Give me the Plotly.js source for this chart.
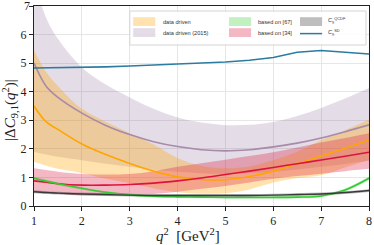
<!DOCTYPE html>
<html>
<head>
<meta charset="utf-8">
<script src="https://cdn.plot.ly/plotly-3.0.1.min.js"></script>
<style>html,body{margin:0;padding:0;background:#fff;}#chart{width:374px;height:245px;}</style>
</head>
<body>
<div id="chart"></div>
<script>
var q2 = [1, 1.25, 1.5, 2, 2.5, 3, 3.5, 4, 4.5, 5, 5.5, 6, 6.5, 7, 7.5, 8];

// data driven
var ddCenter = [3.5, 2.95, 2.68, 2.17, 1.8, 1.49, 1.22, 1.02, 0.93, 0.92, 1.03, 1.22, 1.48, 1.75, 2.02, 2.31];
var ddUpper  = [5.45, 4.7, 4.2, 3.4, 2.95, 2.55, 2.15, 1.68, 1.4, 1.32, 1.38, 1.6, 1.9, 2.3, 2.65, 3.03];
var ddLower  = [1.55, 1.42, 1.3, 1.15, 0.95, 0.8, 0.62, 0.48, 0.43, 0.45, 0.58, 0.82, 0.98, 1.08, 1.35, 1.61];

// data driven (2015)
var dd15Center = [5.0, 4.2, 3.8, 3.25, 2.82, 2.5, 2.25, 2.08, 1.97, 1.93, 1.97, 2.07, 2.2, 2.38, 2.6, 2.84];
var dd15Upper  = [7.9, 6.6, 5.85, 4.85, 4.25, 3.8, 3.4, 3.1, 2.92, 2.83, 2.84, 2.94, 3.15, 3.43, 3.76, 4.13];
var dd15Lower  = [1.9, 1.8, 1.72, 1.6, 1.48, 1.37, 1.27, 1.2, 1.15, 1.13, 1.15, 1.2, 1.28, 1.37, 1.47, 1.58];

// based on [67]
var b67Center = [0.97, 0.87, 0.78, 0.62, 0.48, 0.39, 0.34, 0.32, 0.31, 0.3, 0.3, 0.3, 0.31, 0.35, 0.56, 0.97];
var b67Err    = [0.05, 0.05, 0.05, 0.04, 0.04, 0.04, 0.04, 0.04, 0.04, 0.04, 0.04, 0.04, 0.04, 0.04, 0.05, 0.06];

// based on [34]
var b34Center = [0.88, 0.83, 0.78, 0.73, 0.73, 0.75, 0.8, 0.88, 0.98, 1.1, 1.22, 1.35, 1.48, 1.61, 1.74, 1.88];
var b34Upper  = [1.32, 1.26, 1.2, 1.12, 1.1, 1.12, 1.22, 1.37, 1.5, 1.62, 1.75, 1.88, 2.05, 2.22, 2.38, 2.55];
var b34Lower  = [0.5, 0.46, 0.42, 0.38, 0.37, 0.38, 0.42, 0.5, 0.6, 0.7, 0.82, 0.95, 1.05, 1.13, 1.22, 1.3];

// C9 QCDF
var qcdfCenter = [0.5, 0.47, 0.45, 0.42, 0.4, 0.38, 0.37, 0.37, 0.37, 0.37, 0.37, 0.38, 0.4, 0.42, 0.47, 0.54];
var qcdfErr    = [0.05, 0.05, 0.05, 0.05, 0.05, 0.05, 0.05, 0.05, 0.05, 0.05, 0.05, 0.05, 0.05, 0.05, 0.05, 0.05];

// C9 SD
var sdLine = [4.83, 4.835, 4.84, 4.85, 4.87, 4.9, 4.93, 4.96, 5.0, 5.04, 5.1, 5.2, 5.38, 5.44, 5.38, 5.32];

var xTicks = [1, 2, 3, 4, 5, 6, 7, 8];
var yTicks = [0, 1, 2, 3, 4, 5, 6, 7];
var yTopLabel = 7;

var legendLabels = ['data driven', 'data driven (2015)', 'based on [67]', 'based on [34]',
                    '<i>C</i><sub>9</sub><sup>QCDF</sup>', '<i>C</i><sub>9</sub><sup>SD</sup>'];
var xTitle = '<i>q</i><sup>2</sup>  [GeV<sup>2</sup>]';
var yTitle = '|Δ<i>C</i><sub>9,1</sub>(<i>q</i><sup>2</sup>)|';

var colors = {
  dd: 'rgba(255,165,0,0.32)', dd15: 'rgba(120,80,130,0.2)', b67: 'rgba(50,205,50,0.3)',
  b34: 'rgba(220,20,60,0.3)', qcdf: 'rgba(70,70,70,0.35)'
};

function add(a, b, s) { return a.map(function (v, i) { return v + s * b[i]; }); }
function band(lower, upper, fill) {
  return [
    {x: q2, y: lower, mode: 'lines', line: {width: 0, shape: 'spline'}, showlegend: false, hoverinfo: 'skip'},
    {x: q2, y: upper, mode: 'lines', line: {width: 0, shape: 'spline'}, fill: 'tonexty', fillcolor: fill,
     showlegend: false, hoverinfo: 'skip'}
  ];
}
function line(y, color, w, shape) {
  return {x: q2, y: y, mode: 'lines', line: {color: color, width: w, shape: shape || 'spline'}, showlegend: false};
}

var traces = [].concat(
  band(dd15Lower, dd15Upper, colors.dd15),
  band(ddLower, ddUpper, colors.dd),
  band(add(b67Center, b67Err, -1), add(b67Center, b67Err, 1), colors.b67),
  band(b34Lower, b34Upper, colors.b34),
  band(add(qcdfCenter, qcdfErr, -1), add(qcdfCenter, qcdfErr, 1), colors.qcdf),
  [
    line(dd15Center, '#a88aa9', 1.6),
    line(ddCenter, '#ffa500', 1.6),
    line(b34Center, '#dc143c', 1.6),
    line(b67Center, '#32cd32', 1.6),
    line(qcdfCenter, '#3a3a3a', 1.4),
    line(sdLine, '#2b7ca0', 1.6, 'linear')
  ]
);

// manual legend (paper coordinates)
var legFont = {family: 'Liberation Sans, Arial, sans-serif', size: 5.6, color: '#333'};
var shapes = [
  {type: 'rect', xref: 'paper', yref: 'paper', x0: 0.286, x1: 0.991, y0: 0.805, y1: 0.975,
   fillcolor: 'rgba(255,255,255,0.85)', line: {color: '#d4d4d4', width: 1}, layer: 'above'}
];
var swatches = [
  {c: colors.dd,   x0: 0.296, y0: 0.900},
  {c: colors.dd15, x0: 0.296, y0: 0.845},
  {c: colors.b67,  x0: 0.582, y0: 0.900},
  {c: colors.b34,  x0: 0.582, y0: 0.845},
  {c: colors.qcdf, x0: 0.794, y0: 0.900}
];
swatches.forEach(function (s) {
  shapes.push({type: 'rect', xref: 'paper', yref: 'paper', x0: s.x0, x1: s.x0 + 0.066, y0: s.y0, y1: s.y0 + 0.044,
               fillcolor: s.c, line: {width: 0}, layer: 'above'});
});
shapes.push({type: 'line', xref: 'paper', yref: 'paper', x0: 0.794, x1: 0.860, y0: 0.862, y1: 0.862,
             line: {color: '#2b7ca0', width: 1.5}, layer: 'above'});

var textPos = [[0.379, 0.922], [0.379, 0.867], [0.663, 0.922], [0.663, 0.867], [0.872, 0.925], [0.872, 0.867]];
var annotations = legendLabels.map(function (t, i) {
  return {xref: 'paper', yref: 'paper', x: textPos[i][0], y: textPos[i][1], text: t, showarrow: false,
          xanchor: 'left', yanchor: 'middle', font: legFont};
});

var axisFont = {family: 'Liberation Serif, DejaVu Serif, serif', size: 12, color: '#222'};
var titleFont = {family: 'Liberation Serif, DejaVu Serif, serif', size: 15, color: '#222'};

annotations.push({xref: 'paper', yref: 'paper', x: 0.46, y: -0.147, text: xTitle, showarrow: false,
                  xanchor: 'center', yanchor: 'middle', font: titleFont});
annotations.push({xref: 'paper', yref: 'paper', x: -0.072, y: 0.48, text: yTitle, showarrow: false,
                  textangle: -90, xanchor: 'center', yanchor: 'middle', font: titleFont});
// top y tick label (the native one is suppressed at the very top edge of the page)
annotations.push({xref: 'paper', yref: 'y', x: -0.006, y: yTopLabel, text: String(yTopLabel), showarrow: false,
                  xanchor: 'right', yanchor: 'middle', font: axisFont});

var layout = {
  width: 374, height: 245,
  margin: {l: 34, r: 5, t: 6, b: 39},
  paper_bgcolor: '#fff', plot_bgcolor: '#fff',
  showlegend: false,
  shapes: shapes,
  annotations: annotations,
  xaxis: {
    range: [1, 8], tickmode: 'array', tickvals: xTicks, automargin: false,
    showgrid: true, gridcolor: '#e6e6e6', gridwidth: 1,
    showline: true, linecolor: '#222', linewidth: 1, mirror: true,
    ticks: 'outside', ticklen: 4, tickcolor: '#222',
    tickfont: axisFont, zeroline: false
  },
  yaxis: {
    range: [0, 7], tickmode: 'array', tickvals: yTicks, automargin: false,
    showgrid: true, gridcolor: '#e6e6e6', gridwidth: 1,
    showline: true, linecolor: '#222', linewidth: 1, mirror: true,
    ticks: 'outside', ticklen: 4, tickcolor: '#222',
    tickfont: axisFont, zeroline: false
  }
};

Plotly.newPlot('chart', traces, layout, {staticPlot: true, displayModeBar: false});
</script>
</body>
</html>
